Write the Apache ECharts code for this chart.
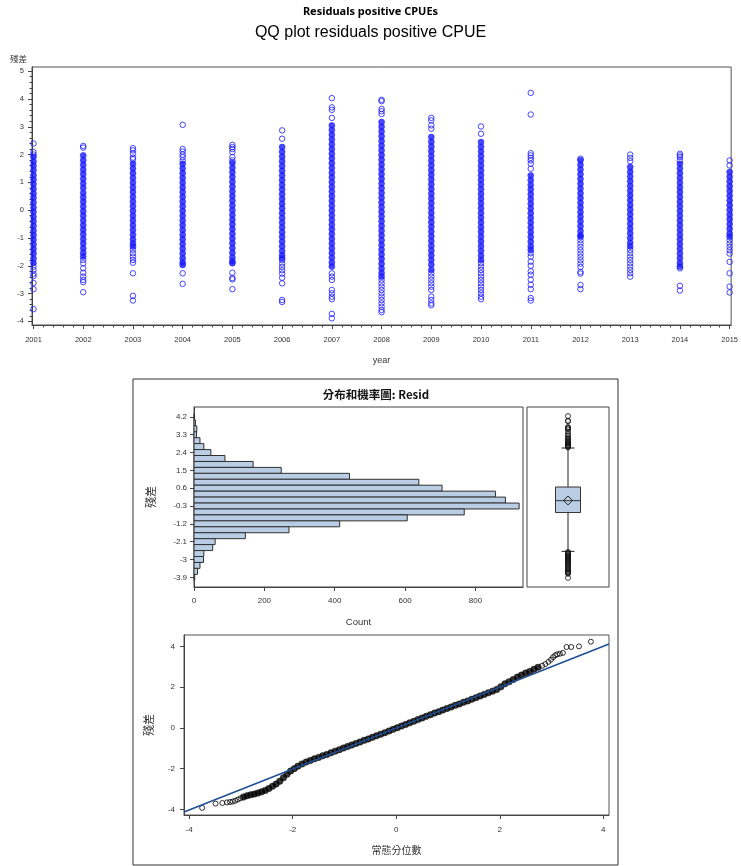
<!DOCTYPE html>
<html><head><meta charset="utf-8">
<script src="https://cdn.jsdelivr.net/npm/echarts@6/dist/echarts.min.js"></script>
<style>html,body{margin:0;padding:0;background:#fff}#c{width:741px;height:866px}</style>
</head><body><div id="c"></div>
<script>
// ---------- DATA ----------
const years = [2001,2002,2003,2004,2005,2006,2007,2008,2009,2010,2011,2012,2013,2014,2015];
const yTicksTop = [-4,-3,-2,-1,0,1,2,3,4,5];

// dense band of residuals per year (estimated)
const denseResid = [
  [1.92,1.75,1.6,1.44,1.26,1.1,0.94,0.77,0.6,0.45,0.28,0.1,-0.06,-0.24,-0.4,-0.57,-0.74,-0.9,-1.06,-1.23,-1.4,-1.56,-1.74,-1.9],
  [1.97,1.8,1.63,1.46,1.3,1.13,0.96,0.8,0.62,0.46,0.3,0.13,-0.04,-0.2,-0.37,-0.54,-0.7,-0.87,-1.04,-1.2,-1.37,-1.53,-1.67],
  [1.67,1.5,1.33,1.16,0.99,0.82,0.65,0.48,0.31,0.14,-0.03,-0.2,-0.37,-0.54,-0.71,-0.88,-1.05,-1.2,-1.31],
  [1.67,1.5,1.33,1.16,0.99,0.82,0.65,0.48,0.31,0.14,-0.03,-0.2,-0.37,-0.54,-0.71,-0.88,-1.05,-1.22,-1.39,-1.56,-1.73,-1.88,-1.97],
  [1.7,1.53,1.36,1.19,1.02,0.85,0.68,0.51,0.34,0.17,0,-0.17,-0.34,-0.51,-0.68,-0.85,-1.02,-1.19,-1.36,-1.53,-1.7,-1.84,-1.91],
  [2.27,2.1,1.93,1.76,1.59,1.42,1.25,1.08,0.91,0.74,0.57,0.4,0.23,0.06,-0.11,-0.28,-0.45,-0.62,-0.79,-0.96,-1.13,-1.3,-1.47,-1.62,-1.73],
  [3.05,2.88,2.71,2.54,2.37,2.2,2.03,1.86,1.69,1.52,1.35,1.18,1.01,0.84,0.67,0.5,0.33,0.16,-0.01,-0.18,-0.35,-0.52,-0.69,-0.86,-1.03,-1.2,-1.37,-1.54,-1.71,-1.88,-2.03],
  [3.17,3.0,2.83,2.66,2.49,2.32,2.15,1.98,1.81,1.64,1.47,1.3,1.13,0.96,0.79,0.62,0.45,0.28,0.11,-0.06,-0.23,-0.4,-0.57,-0.74,-0.91,-1.08,-1.25,-1.42,-1.59,-1.76,-1.93,-2.1,-2.26,-2.39],
  [2.63,2.46,2.29,2.12,1.95,1.78,1.61,1.44,1.27,1.1,0.93,0.76,0.59,0.42,0.25,0.08,-0.09,-0.26,-0.43,-0.6,-0.77,-0.94,-1.11,-1.28,-1.45,-1.62,-1.79,-1.96,-2.15],
  [2.45,2.28,2.11,1.94,1.77,1.6,1.43,1.26,1.09,0.92,0.75,0.58,0.41,0.24,0.07,-0.1,-0.27,-0.44,-0.61,-0.78,-0.95,-1.12,-1.29,-1.46,-1.63,-1.79],
  [1.25,1.08,0.91,0.74,0.57,0.4,0.23,0.06,-0.11,-0.28,-0.45,-0.62,-0.79,-0.96,-1.13,-1.3,-1.43],
  [1.8,1.63,1.46,1.29,1.12,0.95,0.78,0.61,0.44,0.27,0.1,-0.07,-0.24,-0.41,-0.58,-0.75,-0.9,-0.96],
  [1.55,1.38,1.21,1.04,0.87,0.7,0.53,0.36,0.19,0.02,-0.15,-0.32,-0.49,-0.66,-0.83,-1.0,-1.17,-1.31],
  [1.67,1.5,1.33,1.16,0.99,0.82,0.65,0.48,0.31,0.14,-0.03,-0.2,-0.37,-0.54,-0.71,-0.88,-1.05,-1.22,-1.39,-1.56,-1.73,-1.9,-2.03],
  [1.37,1.2,1.03,0.86,0.69,0.52,0.35,0.18,0.01,-0.16,-0.33,-0.5,-0.67,-0.84,-0.96]
];
// isolated residuals per year
const sparseResid = [
  [2.40,2.09,2.0,-2.03,-2.15,-2.29,-2.37,-2.62,-2.84,-3.56],
  [2.31,2.25,-1.79,-1.91,-2.09,-2.25,-2.39,-2.51,-2.59,-2.95],
  [2.23,2.15,2.03,1.89,1.83,-1.42,-1.55,-1.67,-1.79,-1.89,-2.27,-3.08,-3.25],
  [3.07,2.2,2.11,2.0,1.91,1.79,-2.27,-2.65],
  [2.35,2.27,2.2,2.09,1.91,1.79,-2.25,-2.44,-2.49,-2.84],
  [2.87,2.57,-1.8,-1.92,-2.04,-2.16,-2.28,-2.43,-2.63,-3.23,-3.3],
  [4.03,3.70,3.61,3.32,-2.27,-2.39,-2.51,-2.87,-2.99,-3.11,-3.2,-3.73,-3.89],
  [3.97,3.92,3.64,3.56,3.46,-2.51,-2.63,-2.75,-2.87,-2.99,-3.11,-3.23,-3.35,-3.47,-3.59,-3.67],
  [3.32,3.23,3.05,2.93,-2.27,-2.39,-2.51,-2.63,-2.75,-2.87,-3.11,-3.23,-3.35,-3.42],
  [3.01,2.75,-1.91,-2.03,-2.15,-2.27,-2.39,-2.51,-2.63,-2.75,-2.87,-2.99,-3.11,-3.2],
  [4.22,3.44,2.05,1.97,1.88,1.79,1.67,1.49,-1.55,-1.67,-1.85,-2.0,-2.2,-2.32,-2.5,-2.68,-2.84,-3.16,-3.25],
  [1.85,-1.08,-1.2,-1.32,-1.44,-1.56,-1.68,-1.8,-1.92,-2.04,-2.22,-2.28,-2.69,-2.84],
  [2.0,1.88,1.76,-1.43,-1.55,-1.67,-1.79,-1.91,-2.03,-2.15,-2.27,-2.39],
  [2.03,1.97,1.91,1.79,-2.09,-2.72,-2.89],
  [1.79,1.61,-1.08,-1.2,-1.32,-1.44,-1.56,-1.86,-2.27,-2.75,-2.96]
];

// histogram
const histBinCenters = [4.2,3.9,3.6,3.3,3.0,2.7,2.4,2.1,1.8,1.5,1.2,0.9,0.6,0.3,0.0,-0.3,-0.6,-0.9,-1.2,-1.5,-1.8,-2.1,-2.4,-2.7,-3.0,-3.3,-3.6,-3.9];
const histCounts     = [1,4,8,7,17,28,48,88,168,248,442,639,705,857,885,924,768,606,414,270,146,60,53,28,27,17,10,2];
const histTickLabels = [4.2,3.3,2.4,1.5,0.6,-0.3,-1.2,-2.1,-3,-3.9];
const countTicks = [0,200,400,600,800];

// box plot: lower whisker, Q1, median, Q3, upper whisker, mean
const boxStats = [-2.59,-0.63,-0.03,0.66,2.63,-0.02];
const boxOutliers = [2.66,2.7,2.73,2.77,2.8,2.84,2.88,2.92,2.96,3.0,3.05,3.1,3.16,3.25,3.33,3.45,3.56,3.62,3.65,3.69,3.98,4.01,4.24,
  -2.62,-2.66,-2.7,-2.74,-2.78,-2.82,-2.86,-2.9,-2.94,-2.98,-3.02,-3.06,-3.1,-3.15,-3.2,-3.25,-3.3,-3.36,-3.42,-3.48,-3.53,-3.58,-3.62,-3.66,-3.69,-3.72,-3.93];

// QQ plot: [normal quantile, residual]
const qqDense = [[-2.95,-3.40],[-2.88,-3.33],[-2.81,-3.29],[-2.74,-3.25],[-2.67,-3.20],[-2.6,-3.14],[-2.53,-3.07],[-2.46,-2.98],[-2.39,-2.87],[-2.32,-2.76],[-2.25,-2.62],[-2.18,-2.45],[-2.11,-2.28],[-2.04,-2.12],[-1.97,-2.0],[-1.9,-1.88],[-1.82,-1.77],[-1.74,-1.68],[-1.66,-1.6],[-1.58,-1.52],[-1.5,-1.45],[-1.42,-1.37],[-1.34,-1.3],[-1.26,-1.22],[-1.18,-1.14],[-1.1,-1.07],[-1.02,-0.99],[-0.94,-0.91],[-0.86,-0.84],[-0.78,-0.76],[-0.7,-0.69],[-0.62,-0.61],[-0.54,-0.54],[-0.46,-0.46],[-0.38,-0.38],[-0.3,-0.31],[-0.22,-0.23],[-0.14,-0.15],[-0.06,-0.07],[0.02,0.01],[0.1,0.09],[0.18,0.17],[0.26,0.25],[0.34,0.33],[0.42,0.41],[0.5,0.49],[0.58,0.57],[0.66,0.65],[0.74,0.73],[0.82,0.8],[0.9,0.88],[0.98,0.96],[1.06,1.03],[1.14,1.11],[1.22,1.18],[1.3,1.26],[1.38,1.33],[1.46,1.41],[1.54,1.49],[1.62,1.57],[1.7,1.65],[1.78,1.73],[1.86,1.81],[1.94,1.89],[2.02,2.02],[2.1,2.17],[2.18,2.27],[2.26,2.38],[2.34,2.5],[2.42,2.6],[2.5,2.7],[2.58,2.78],[2.66,2.88],[2.74,2.98]];
const qqTails = [[-3.75,-3.93],[-3.49,-3.72],[-3.36,-3.69],[-3.27,-3.66],[-3.21,-3.64],[-3.16,-3.62],[-3.11,-3.58],[-3.06,-3.52],[-3.01,-3.46],
  [2.82,3.06],[2.88,3.14],[2.94,3.25],[2.99,3.36],[3.03,3.48],[3.07,3.57],[3.11,3.62],[3.16,3.65],[3.22,3.69],[3.29,3.98],[3.38,3.98],[3.53,4.01],[3.76,4.24]];
const qqRefLine = [[-4.1,-4.13],[4.11,4.13]];
const qqTicks = [-4,-2,0,2,4];

// ---------- BUILD ----------
const denseData = [], sparseData = [];
years.forEach((yr, i) => {
  denseResid[i].forEach(v => denseData.push([yr, v]));
  sparseResid[i].forEach(v => sparseData.push([yr, v]));
});
const minorX = [];
for (let i = 0; i < years.length - 1; i++) for (let k = 1; k < 5; k++) minorX.push(years[i] + k * 0.2);
const minorY = [];
for (let i = 0; i < yTicksTop.length - 1; i++) for (let k = 1; k < 5; k++) minorY.push(+(yTicksTop[i] + k * 0.2).toFixed(2));

const AX = '#444', TXT = '#333';
const FONT = 'Liberation Sans';
const CJK = '"Noto Sans CJK TC", "Noto Sans CJK SC", sans-serif';
const BLUE = '#1a1aff';
const binW = 0.3;

const chart = echarts.init(document.getElementById('c'), null, {renderer: 'canvas'});
const hidden = {show: false};
const axLine = {show: true, onZero: false, lineStyle: {color: AX}};
const noLine = {show: false, onZero: false};

chart.setOption({
  animation: false,
  backgroundColor: '#fff',
  textStyle: {fontFamily: FONT},
  grid: [
    {left: 32, top: 67, width: 702, height: 258, show: true, borderColor: '#555', borderWidth: 1},
    {left: 194, top: 407, width: 329, height: 180, show: true, borderColor: '#444', borderWidth: 1},
    {left: 527, top: 407, width: 82, height: 180, show: true, borderColor: '#444', borderWidth: 1},
    {left: 184, top: 635, width: 425, height: 180, show: true, borderColor: '#555', borderWidth: 1}
  ],
  xAxis: [
    {gridIndex: 0, type: 'value', position: 'bottom', min: 2000.97, max: 2015.03,
     name: 'year', nameLocation: 'middle', nameGap: 31, nameTextStyle: {fontSize: 9, color: TXT, fontFamily: FONT},
     axisLine: axLine, splitLine: hidden,
     axisTick: {customValues: years, length: 4, lineStyle: {color: AX}},
     axisLabel: {customValues: years, fontSize: 7.5, color: TXT, margin: 11, formatter: v => String(v)}},
    {gridIndex: 0, type: 'value', position: 'bottom', min: 2000.97, max: 2015.03, axisLine: noLine, splitLine: hidden,
     axisTick: {customValues: minorX, length: 2.5, lineStyle: {color: AX}}, axisLabel: hidden},
    {gridIndex: 1, type: 'value', position: 'bottom', min: 0, max: 935, name: 'Count', nameLocation: 'middle', nameGap: 30,
     nameTextStyle: {fontSize: 9.5, color: TXT}, axisLine: axLine, splitLine: hidden,
     axisTick: {customValues: countTicks, length: 4, lineStyle: {color: AX}},
     axisLabel: {customValues: countTicks, fontSize: 8, color: TXT, margin: 10}},
    {gridIndex: 2, type: 'value', min: 0, max: 1, show: false},
    {gridIndex: 3, type: 'value', position: 'bottom', min: -4.1, max: 4.11, name: '常態分位數', nameLocation: 'middle', nameGap: 30,
     nameTextStyle: {fontSize: 10, color: TXT, fontFamily: CJK}, axisLine: axLine, splitLine: hidden,
     axisTick: {customValues: qqTicks, length: 4, lineStyle: {color: AX}},
     axisLabel: {customValues: qqTicks, fontSize: 8, color: TXT, margin: 11}}
  ],
  yAxis: [
    {gridIndex: 0, type: 'value', position: 'left', min: -4.13, max: 5.15, axisLine: axLine, splitLine: hidden,
     axisTick: {show: true, customValues: yTicksTop, length: 4, lineStyle: {color: AX}},
     axisLabel: {customValues: yTicksTop, fontSize: 7.5, color: TXT, margin: 8}},
    {gridIndex: 0, type: 'value', position: 'left', min: -4.13, max: 5.15, axisLine: noLine, splitLine: hidden,
     axisTick: {show: true, customValues: minorY, length: 2.5, lineStyle: {color: AX}}, axisLabel: hidden},
    {gridIndex: 1, type: 'value', position: 'left', min: -4.39, max: 4.70, name: '殘差', nameLocation: 'middle', nameGap: 38, nameRotate: 90,
     nameTextStyle: {fontSize: 11, color: TXT, fontFamily: CJK}, axisLine: axLine, splitLine: hidden,
     axisTick: {show: true, customValues: histTickLabels, length: 4, lineStyle: {color: AX}},
     axisLabel: {customValues: histTickLabels, fontSize: 8, color: TXT, margin: 7, formatter: v => String(v)}},
    {gridIndex: 2, type: 'value', min: -4.39, max: 4.70, show: false},
    {gridIndex: 3, type: 'value', position: 'left', min: -4.28, max: 4.57, name: '殘差', nameLocation: 'middle', nameGap: 30, nameRotate: 90,
     nameTextStyle: {fontSize: 11, color: TXT, fontFamily: CJK}, axisLine: axLine, splitLine: hidden,
     axisTick: {show: true, customValues: qqTicks, length: 4, lineStyle: {color: AX}},
     axisLabel: {customValues: qqTicks, fontSize: 8, color: TXT, margin: 9}}
  ],
  series: [
    {type: 'scatter', xAxisIndex: 0, yAxisIndex: 0, data: denseData, symbol: 'circle', symbolSize: 6,
     itemStyle: {color: BLUE, borderColor: BLUE, borderWidth: 0.6}},
    {type: 'scatter', xAxisIndex: 0, yAxisIndex: 0, data: sparseData, symbol: 'circle', symbolSize: 5.5,
     itemStyle: {color: 'rgba(0,0,0,0)', borderColor: BLUE, borderWidth: 1}},
    {type: 'custom', xAxisIndex: 2, yAxisIndex: 2,
     data: histBinCenters.map((c, i) => [histCounts[i], c]), encode: {x: 0, y: 1},
     renderItem: (params, api) => {
       const n = api.value(0), c = api.value(1);
       const p1 = api.coord([0, c + binW / 2]);
       const p2 = api.coord([n, c - binW / 2]);
       return {type: 'rect', shape: {x: p1[0], y: p1[1], width: p2[0] - p1[0], height: p2[1] - p1[1]},
               style: {fill: '#b9cde5', stroke: '#2f2f2f', lineWidth: 1}};
     }},
    {type: 'custom', xAxisIndex: 3, yAxisIndex: 3, data: [boxStats], clip: false,
     renderItem: (params, api) => {
       const cx = api.coord([0.5, 0])[0];
       const y = i => api.coord([0.5, api.value(i)])[1];
       const lo = y(0), q1 = y(1), md = y(2), q3 = y(3), hi = y(4), mn = y(5);
       const hw = 12.5, cw = 6.5, d = 4.5;
       const ls = {stroke: '#222', lineWidth: 1};
       return {type: 'group', children: [
         {type: 'line', shape: {x1: cx, y1: hi, x2: cx, y2: q3}, style: ls},
         {type: 'line', shape: {x1: cx, y1: q1, x2: cx, y2: lo}, style: ls},
         {type: 'line', shape: {x1: cx - cw, y1: hi, x2: cx + cw, y2: hi}, style: ls},
         {type: 'line', shape: {x1: cx - cw, y1: lo, x2: cx + cw, y2: lo}, style: ls},
         {type: 'rect', shape: {x: cx - hw, y: q3, width: 2 * hw, height: q1 - q3}, style: {fill: '#b9cde5', stroke: '#333', lineWidth: 1}},
         {type: 'line', shape: {x1: cx - hw, y1: md, x2: cx + hw, y2: md}, style: {stroke: '#333', lineWidth: 1}},
         {type: 'polygon', shape: {points: [[cx, mn - d], [cx + d, mn], [cx, mn + d], [cx - d, mn]]}, style: {fill: 'none', stroke: '#222', lineWidth: 1}}
       ]};
     }},
    {type: 'scatter', xAxisIndex: 3, yAxisIndex: 3, data: boxOutliers.map(v => [0.5, v]), symbol: 'circle', symbolSize: 5,
     itemStyle: {color: 'rgba(0,0,0,0)', borderColor: '#111', borderWidth: 1}},
    {type: 'scatter', xAxisIndex: 4, yAxisIndex: 4, data: qqDense, symbol: 'circle', symbolSize: 6.5,
     itemStyle: {color: '#000', borderColor: '#000', borderWidth: 0.5}},
    {type: 'scatter', xAxisIndex: 4, yAxisIndex: 4, data: qqTails, symbol: 'circle', symbolSize: 5,
     itemStyle: {color: 'rgba(0,0,0,0)', borderColor: '#000', borderWidth: 1}},
    {type: 'line', xAxisIndex: 4, yAxisIndex: 4, data: qqRefLine, symbol: 'none', z: 5,
     lineStyle: {color: '#1f4e96', width: 1.5}}
  ],
  graphic: [
    {type: 'text', left: 'center', top: 6, style: {text: 'Residuals positive CPUEs', font: 'bold 11px "Noto Sans"', fill: '#000'}},
    {type: 'text', left: 'center', top: 25, style: {text: 'QQ plot residuals positive CPUE', font: '16px "Liberation Sans"', fill: '#000'}},
    {type: 'text', left: 10, top: 55, style: {text: '殘差', font: '8.5px "Noto Sans CJK TC"', fill: TXT}},
    {type: 'rect', shape: {x: 133, y: 379, width: 485, height: 486}, style: {fill: 'none', stroke: '#333', lineWidth: 1}, z: -1},
    {type: 'text', x: 376, y: 395, style: {text: '分布和機率圖: Resid', font: 'bold 11.5px "Noto Sans CJK TC"', fill: '#111', align: 'center', verticalAlign: 'middle'}}
  ]
});
</script></body></html>
